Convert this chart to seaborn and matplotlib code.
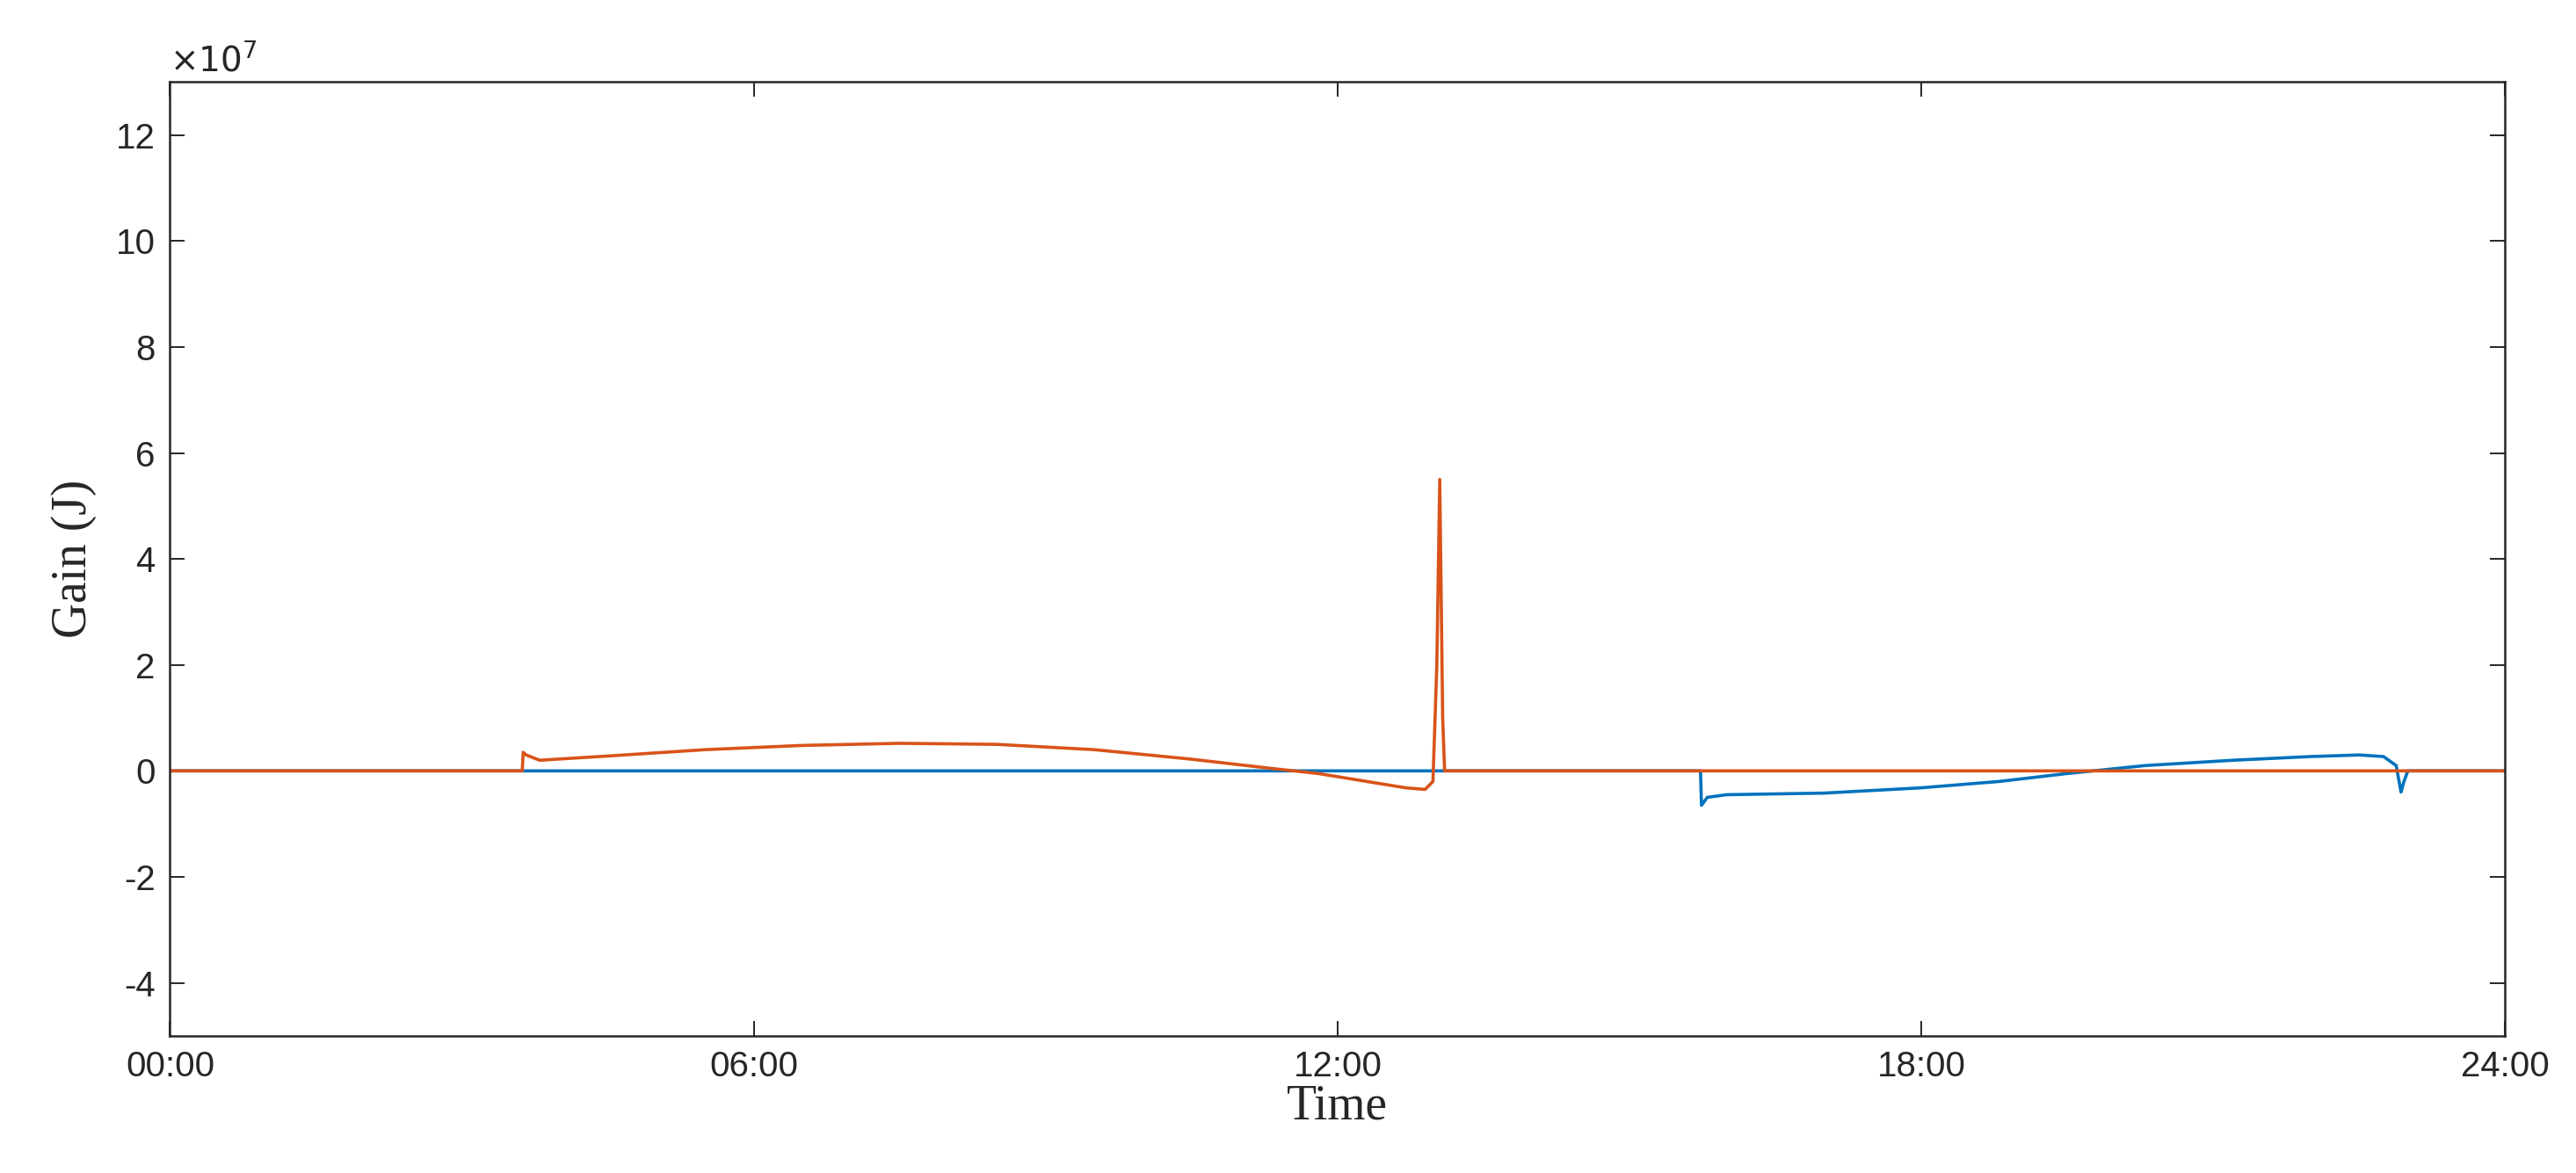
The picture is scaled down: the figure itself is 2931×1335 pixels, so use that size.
import numpy as np
import pandas as pd
import matplotlib
matplotlib.use('Agg')
import matplotlib.pyplot as plt
import seaborn as sns

# hours of day and gain (1e7 J)
hours_orange = [0, 3.62, 3.63, 3.66, 3.8, 4.5, 5.5, 6.5, 7.5, 8.5, 9.5, 10.5, 11.3, 11.8, 12.3, 12.7, 12.9, 12.98, 13.02, 13.05, 13.08, 13.1, 24]
gain_orange = [0, 0, 0.35, 0.3, 0.2, 0.28, 0.4, 0.48, 0.52, 0.5, 0.4, 0.22, 0.05, -0.05, -0.2, -0.32, -0.35, -0.2, 2.0, 5.5, 1.0, 0, 0]
hours_blue = [0, 15.73, 15.74, 15.8, 16.0, 17.0, 18.0, 18.8, 19.5, 20.3, 21.2, 22.0, 22.5, 22.75, 22.88, 22.93, 22.96, 23.0, 24]
gain_blue = [0, 0, -0.65, -0.5, -0.45, -0.42, -0.32, -0.2, -0.05, 0.1, 0.2, 0.27, 0.3, 0.27, 0.1, -0.4, -0.2, 0, 0]

df_b = pd.DataFrame({'t': hours_blue, 'g': np.array(gain_blue) * 1e7})
df_o = pd.DataFrame({'t': hours_orange, 'g': np.array(gain_orange) * 1e7})

sns.set_style('ticks')
plt.rcParams['font.family'] = ['Liberation Sans', 'DejaVu Sans']

fig = plt.figure(figsize=(14.655, 6.675), dpi=200)
ax = fig.add_axes([0.066, 0.117, 0.9065, 0.813])
sns.lineplot(data=df_b, x='t', y='g', color='#0072BD', lw=1.3, ax=ax)
sns.lineplot(data=df_o, x='t', y='g', color='#D95319', lw=1.3, ax=ax)

ax.set_xlim(0, 24)
ax.set_ylim(-5e7, 13e7)
ax.set_xticks([0, 6, 12, 18, 24])
ax.set_xticklabels(['00:00', '06:00', '12:00', '18:00', '24:00'])
ax.set_yticks(np.arange(-4, 13, 2) * 1e7)
ax.set_yticklabels([str(v) for v in range(-4, 13, 2)])
ax.text(0.0, 1.005, r'$\times10^{7}$', transform=ax.transAxes, fontsize=14, color='#262626', va='bottom')
ax.tick_params(direction='in', top=True, right=True, labelsize=14.5, colors='#262626', length=6, width=0.7, pad=6)
for s in ax.spines.values():
    s.set_linewidth(0.9)
    s.set_color('#262626')
ax.set_xlabel('Time', family='Liberation Serif', fontsize=20, labelpad=0)
ax.set_ylabel('Gain (J)', family='Liberation Serif', fontsize=20, labelpad=8)
fig.savefig('out.png', dpi=200)
